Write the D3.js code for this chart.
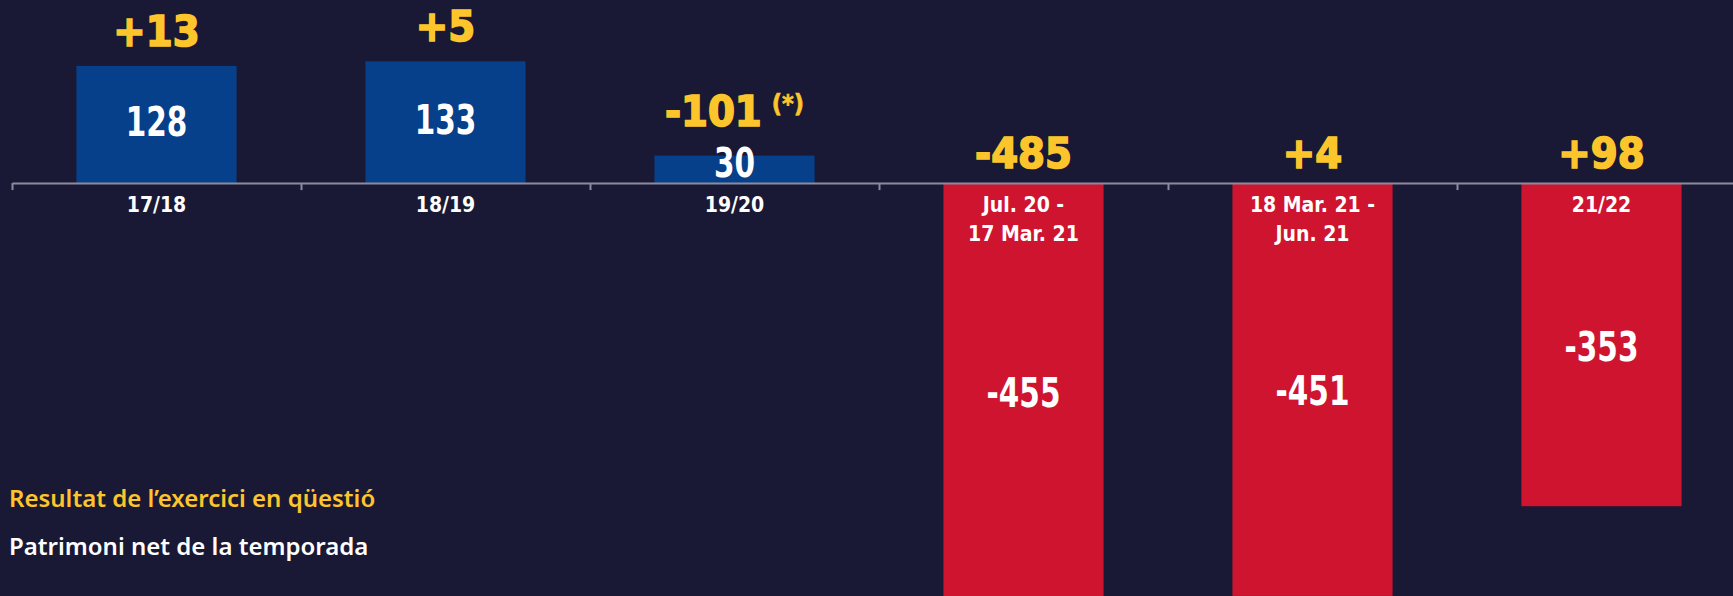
<!DOCTYPE html>
<html>
<head>
<meta charset="utf-8">
<script src="https://cdn.jsdelivr.net/npm/d3@7"></script>
<style>
   html, body { margin: 0; padding: 0; background: #1a1935; }
   svg { display: block; }
</style>
</head>
<body>
<div id="chart"></div>
<script>

// DATA
var seasons = ['17/18', '18/19', '19/20', 'Jul. 20 -\n17 Mar. 21', '18 Mar. 21 -\nJun. 21', '21/22']
var patrimoni = [128, 133, 30, -455, -451, -353]
var resultat = [13, 5, -101, -485, 4, 98]
var notes = ['', '', '(*)', '', '', '']
var legend = ['Resultat de l\u2019exercici en q\u00fcesti\u00f3', 'Patrimoni net de la temporada']

// SETTINGS
var settings = {
   width: 1733,
   height: 596,
   left: 12,
   step: 289,
   background: '#1a1935',
   blue: '#07408a',
   red: '#cf1430',
   yellow: '#fdc52c',
   axis: '#8b8b9b',
   condFont: '"DejaVu Sans Condensed", "DejaVu Sans", sans-serif',
   textFont: '"Noto Sans", "Open Sans", sans-serif'
}

// GENERATE CANVAS
var canvas = d3.select('#chart').append('svg')
   .attr('width', settings.width)
   .attr('height', settings.height)
   .style('background', settings.background)

// X-SCALING
var right = settings.left + settings.step * seasons.length
var xScale = d3.scaleBand()
   .domain(seasons)
   .range([settings.left, right])
   .paddingInner(0.446)
   .paddingOuter(0.223)

// EDGE SCALE FOR THE TICKS BETWEEN BANDS
var edgeScale = d3.scaleLinear()
   .domain([0, seasons.length])
   .range([settings.left, right])

// Y-SCALING
var yScale = d3.scaleLinear()
   .domain([-450, 200])
   .range([595, 0])

var y0 = yScale(0)

// BAND CENTER
function cx(i) { return xScale(seasons[i]) + xScale.bandwidth() / 2 }

// GENERATE BARS
canvas.selectAll('rect.bar')
   .data(patrimoni)
      .enter().append('rect')
         .attr('class', 'bar')
         .attr('x', (d, i) => { return xScale(seasons[i]) })
         .attr('y', (d) => { return yScale(Math.max(0, d)) })
         .attr('width', xScale.bandwidth())
         .attr('height', (d) => { return Math.abs(yScale(d) - y0) })
         .attr('fill', (d) => { return d >= 0 ? settings.blue : settings.red })

// GENERATE AXIS
var axis = canvas.append('g')
   .attr('transform', 'translate(0,' + y0 + ')')
   .call(d3.axisBottom(edgeScale)
      .tickValues(d3.range(seasons.length + 1))
      .tickSize(7)
      .tickSizeOuter(0)
      .tickFormat(''))

axis.selectAll('path, line')
   .attr('stroke', settings.axis)
   .attr('stroke-width', 2)

// CATEGORY LABELS
var cats = canvas.selectAll('text.cat')
   .data(seasons)
      .enter().append('text')
         .attr('class', 'cat')
         .attr('x', (d, i) => { return cx(i) })
         .attr('y', y0 + 29)
         .attr('text-anchor', 'middle')
         .attr('fill', '#ffffff')
         .style('font-family', settings.condFont)
         .style('font-weight', 'bold')
         .style('font-size', '21px')

cats.selectAll('tspan')
   .data((d) => { return d.split('\n') })
      .enter().append('tspan')
         .attr('x', function () { return d3.select(this.parentNode).attr('x') })
         .attr('dy', (d, i) => { return i === 0 ? 0 : 29 })
         .text((d) => { return d })

// INNER VALUE POSITION
function innerY(d) {
   var mid = (yScale(d) + y0) / 2
   return d >= 0 ? Math.min(mid - 4, y0 - 22) : mid
}

// PATRIMONI LABELS INSIDE BARS
canvas.selectAll('text.inner')
   .data(patrimoni)
      .enter().append('text')
         .attr('class', 'inner')
         .attr('transform', (d, i) => { return 'translate(' + cx(i) + ',' + (innerY(d) + 16) + ') scale(0.8,1)' })
         .attr('text-anchor', 'middle')
         .attr('fill', '#ffffff')
         .style('font-family', settings.condFont)
         .style('font-weight', 'bold')
         .style('font-size', '41px')
         .text((d) => { return d })

// RESULTAT LABELS ABOVE BARS
var res = canvas.selectAll('text.res')
   .data(resultat)
      .enter().append('text')
         .attr('class', 'res')
         .attr('x', (d, i) => { return cx(i) })
         .attr('y', (d, i) => {
            var v = patrimoni[i]
            if (v < 0) return y0 - 15
            return Math.min(yScale(v), innerY(v) - 15) - 20
         })
         .attr('text-anchor', 'middle')
         .attr('fill', settings.yellow)
         .attr('stroke', settings.yellow)
         .attr('stroke-width', 1.6)
         .style('font-family', settings.condFont)
         .style('font-weight', 'bold')
         .style('font-size', '43px')

res.append('tspan')
   .text((d) => { return (d > 0 ? '+' : '') + d })

res.append('tspan')
   .attr('dx', (d, i) => { return notes[i] ? 10 : 0 })
   .attr('dy', -14)
   .attr('stroke-width', 0.6)
   .style('font-size', '25px')
   .text((d, i) => { return notes[i] })

// LEGEND
canvas.selectAll('text.legend')
   .data(legend)
      .enter().append('text')
         .attr('class', 'legend')
         .attr('x', 9)
         .attr('y', (d, i) => { return 507 + i * 48 })
         .attr('fill', (d, i) => { return i === 0 ? settings.yellow : '#ffffff' })
         .style('font-family', settings.textFont)
         .style('font-weight', 600)
         .style('font-size', '24px')
         .text((d) => { return d })

</script>
</body>
</html>
